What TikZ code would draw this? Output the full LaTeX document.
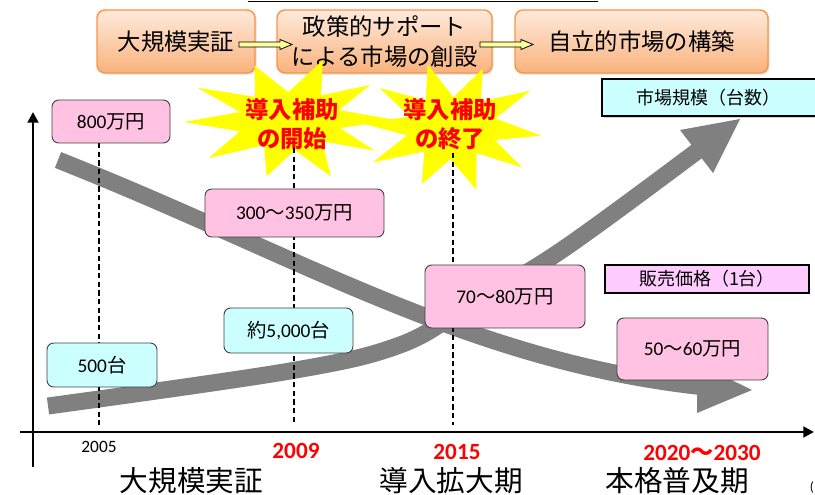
\documentclass[tikz,border=0pt]{standalone}
\usepackage{fontspec}
\setmainfont{Carlito}
\newfontfamily\jp{Noto Sans CJK JP}
\usetikzlibrary{shadows,arrows.meta,calc}
\definecolor{orb}{HTML}{F79646}
\definecolor{ortop}{HTML}{FEEADC}
\definecolor{orbot}{HTML}{F9B27C}
\definecolor{pinkf}{HTML}{FFC2E2}
\definecolor{cyanf}{HTML}{CCFFFF}
\definecolor{violf}{HTML}{FFCCFF}
\definecolor{arrg}{HTML}{808080}
\definecolor{ylw}{HTML}{FFFF00}
\definecolor{ylwa}{HTML}{FFFF99}
\definecolor{redt}{HTML}{FF0000}
\begin{document}
\begin{tikzpicture}[x=0.75pt,y=-0.75pt,
  obox/.style={rounded corners=6pt, draw=orb, line width=1.1pt, top color=ortop, bottom color=orbot,
    drop shadow={shadow xshift=1.2pt, shadow yshift=-1.2pt, opacity=0.25},
    font=\jp\fontsize{17.5}{22.5}\selectfont, align=center, inner sep=0pt},
  pbox/.style={rounded corners=5pt, draw=black!75, line width=0.7pt, fill=pinkf,
    font=\fontsize{14.5}{17}\selectfont, inner sep=0pt},
  cbox/.style={rounded corners=5pt, draw=black!75, line width=0.7pt, fill=cyanf,
    font=\fontsize{14.5}{17}\selectfont, inner sep=0pt},
  lbox/.style={draw=black, line width=1pt, font=\jp\fontsize{13.5}{16}\selectfont, inner sep=0pt},
  startext/.style={font=\jp\bfseries\fontsize{17.5}{21.75}\selectfont, text=redt, align=center},
  yeartext/.style={font=\bfseries\fontsize{17.4}{20}\selectfont, text=redt},
  phase/.style={font=\jp\fontsize{21.5}{24}\selectfont},
  garrow/.style={draw=arrg, line width=12.75pt},
  dline/.style={line width=0.8pt, dash pattern=on 4pt off 2.5pt},
  axis/.style={line width=2.2pt, -{Triangle[length=8pt,width=8pt]}},
  yarrow/.style={fill=ylwa, draw=black, line width=0.6pt}
]
\useasboundingbox (0,0) rectangle (815,495);
\clip (0,0) rectangle (815,495);

% top line
\coordinate (tl1) at (248,1.5);
\coordinate (tl2) at (598,1.5);
\draw[line width=1.1pt] (tl1) -- (tl2);

% orange phase boxes
\node[obox, minimum width=118.5pt, minimum height=47.25pt] (ob1) at (176,41.5) {大規模実証};
\node[obox, minimum width=161.25pt, minimum height=47.25pt] (ob2) at (384.5,41.5) {政策的サポート\\による市場の創設};
\node[obox, minimum width=189.75pt, minimum height=47.25pt] (ob3) at (641.5,41.5) {自立的市場の構築};

% yellow block arrows
\draw[yarrow] (239,42) -- (280,42) -- (280,39.5) -- (292,44.5) -- (280,49.5) -- (280,47) -- (239,47) -- cycle;
\draw[yarrow] (480,42) -- (521,42) -- (521,39.5) -- (533,44.5) -- (521,49.5) -- (521,47) -- (480,47) -- cycle;

% starbursts
\begin{scope}[shift={(290,120)}, xscale=104, yscale=58]
\fill[ylw] (0:1.02) -- (16:0.5) -- (33:0.97) -- (50:0.48) -- (68:1.05) -- (85:0.52) -- (103:1.0) -- (120:0.5)
  -- (140:1.02) -- (158:0.52) -- (178:1.02) -- (196:0.5) -- (212:1.05) -- (230:0.52) -- (250:1.0) -- (268:0.48)
  -- (287:1.08) -- (305:0.52) -- (322:0.98) -- (340:0.5) -- cycle;
\end{scope}
\begin{scope}[shift={(452,127)}, xscale=90, yscale=62]
\fill[ylw] (8:1.0) -- (24:0.52) -- (40:1.02) -- (57:0.5) -- (75:1.05) -- (92:0.52) -- (110:0.98) -- (128:0.5)
  -- (147:1.05) -- (165:0.52) -- (183:0.98) -- (200:0.5) -- (218:1.02) -- (236:0.52) -- (255:1.05) -- (272:0.48)
  -- (290:1.0) -- (308:0.52) -- (326:1.05) -- (344:0.5) -- cycle;
\end{scope}
\node[startext] (st1) at (292,124) {導入補助\\の開始};
\node[startext] (st2) at (450,124) {導入補助\\の終了};

% gray trend arrows
\coordinate (da) at (58,160); \coordinate (db) at (705,387);
\draw[garrow] (da) .. controls (300,256) and (470,362) .. (db);
\fill[arrg] (697,363) -- (752,390) -- (697,413) -- cycle;
\draw[garrow] plot[smooth, tension=0.6] coordinates {(48,406) (290,371) (400,345) (470,305) (562,250) (700,149)};
\fill[arrg] (680,130) -- (740,119) -- (713,173) -- cycle;

% dashed guide lines
\coordinate (d1a) at (99,143);  \coordinate (d1b) at (99,425);
\coordinate (d2a) at (294,148); \coordinate (d2b) at (294,425);
\coordinate (d3a) at (453,153); \coordinate (d3b) at (453,425);
\draw[dline] (d1a) -- (d1b);
\draw[dline] (d2a) -- (d2b);
\draw[dline] (d3a) -- (d3b);

% axes
\coordinate (yb) at (33,467); \coordinate (yt) at (33,112);
\coordinate (xl) at (20,432); \coordinate (xr) at (814,432);
\draw[axis] (yb) -- (yt);
\draw[axis] (xl) -- (xr);

% price boxes
\node[pbox, minimum width=88.5pt, minimum height=32.25pt] (p800) at (111,121.5) {800{\jp 万円}};
\node[pbox, minimum width=134.25pt, minimum height=36pt] (p300) at (294.5,213) {300{\jp ～}350{\jp 万円}};
\node[pbox, minimum width=120pt, minimum height=47.25pt] (p70) at (505,296.5) {70{\jp ～}80{\jp 万円}};
\node[pbox, minimum width=113.25pt, minimum height=46.5pt] (p50) at (692.5,349) {50{\jp ～}60{\jp 万円}};

% volume boxes
\node[cbox, minimum width=82.5pt, minimum height=33pt] (c500) at (102,365) {500{\jp 台}};
\node[cbox, minimum width=96.75pt, minimum height=33.75pt] (c5000) at (288.5,330.5) {{\jp 約}5,000{\jp 台}};

% legend boxes
\node[lbox, fill=cyanf, minimum width=171pt, minimum height=27.75pt,
  drop shadow={shadow xshift=1.5pt, shadow yshift=-1.5pt, opacity=0.35}] (lmk) at (716,97.5) {\hspace*{-12pt}市場規模（台数）};
\node[lbox, fill=violf, minimum width=153pt, minimum height=21pt] (lpr) at (707,279) {販売価格（1台）};

% year labels
\node[font=\fontsize{13}{15}\selectfont] (y2005) at (99,447) {2005};
\node[yeartext] (y2009) at (296,451) {2009};
\node[yeartext] (y2015) at (457,452) {2015};
\node[yeartext] (y2020) at (702,453) {2020{\jp\bfseries ～}2030};

% phase labels
\node[phase] (ph1) at (191.5,481) {大規模実証};
\node[phase] (ph2) at (451,481) {導入拡大期};
\node[phase] (ph3) at (677,481) {本格普及期};
\node[font=\fontsize{10}{12}\selectfont] (paren) at (812,488) {(};
\end{tikzpicture}
\end{document}
